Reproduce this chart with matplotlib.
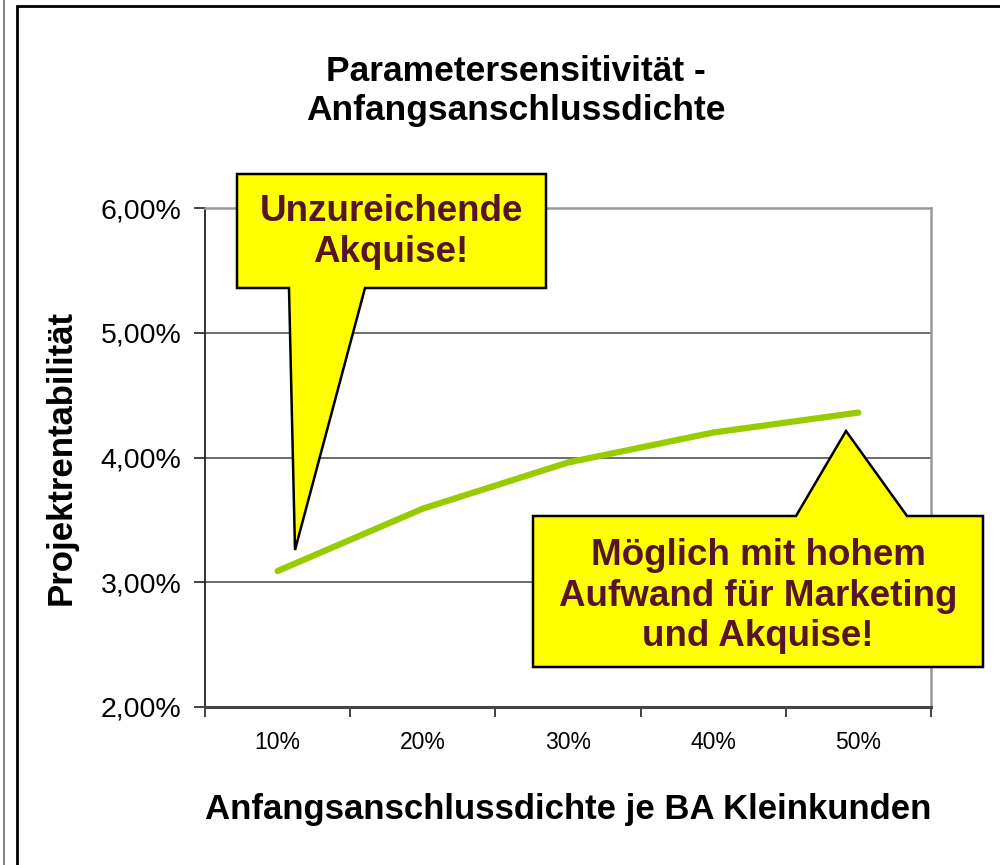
import numpy as np
import matplotlib
matplotlib.use("Agg")
import matplotlib.pyplot as plt
from matplotlib.patches import Polygon, Rectangle
from matplotlib.lines import Line2D

plt.rcParams['font.family'] = ['Liberation Sans', 'DejaVu Sans']

# data
categories = ['10%', '20%', '30%', '40%', '50%']
rentabilitaet = [3.09, 3.59, 3.96, 4.20, 4.36]   # in %
y_ticks = [2, 3, 4, 5, 6]
y_tick_labels = ['2,00%', '3,00%', '4,00%', '5,00%', '6,00%']

title = 'Parametersensitivität -\nAnfangsanschlussdichte'
x_label = 'Anfangsanschlussdichte je BA Kleinkunden'
y_label = 'Projektrentabilität'
note_low = 'Unzureichende\nAkquise!'
note_high = 'Möglich mit hohem\nAufwand für Marketing\nund Akquise!'

W, H = 1000, 865
fig = plt.figure(figsize=(W / 100, H / 100), dpi=100)

# pixel (from top-left) -> figure fraction
def px(x, y):
	return (x / W, 1 - y / H)

left, top = px(205, 208)
right, bottom = px(931, 707)
ax = fig.add_axes([left, bottom, right - left, top - bottom])

x = np.arange(1, len(categories) + 1)
ax.plot(x, rentabilitaet, color='#99cc00', lw=4.5, solid_capstyle='round',
	solid_joinstyle='round', zorder=3)

ax.set_xlim(0.5, len(categories) + 0.5)
ax.set_ylim(2, 6)
ax.set_yticks(y_ticks)
ax.set_yticklabels(y_tick_labels, fontsize=20.5)
ax.set_xticks(x)
ax.set_xticklabels(categories, fontsize=16.5)
ax.set_xticks(np.arange(0.5, len(categories) + 1), minor=True)
ax.tick_params(axis='x', which='major', length=0, pad=17)
ax.tick_params(axis='x', which='minor', length=7, width=1.2, direction='out', color='#222222')
ax.tick_params(axis='y', length=8, width=1.2, direction='out', pad=9, color='#222222')
ax.grid(axis='y', color='#444444', lw=1.1)
ax.set_axisbelow(True)

ax.spines['left'].set_color('#222222')
ax.spines['left'].set_linewidth(1.3)
ax.spines['bottom'].set_color('#444444')
ax.spines['bottom'].set_linewidth(2.2)
ax.spines['right'].set_color('#999999')
ax.spines['right'].set_linewidth(1.8)
ax.spines['top'].set_color('#999999')
ax.spines['top'].set_linewidth(1.8)

ax.set_ylabel(y_label, fontsize=25, fontweight='bold')
ax.yaxis.set_label_coords(-0.176, 0.5)
ax.set_xlabel(x_label, fontsize=25, fontweight='bold')
ax.xaxis.set_label_coords(0.5, -0.172)

tx, ty = px(516, 91)
fig.text(tx, ty, title, ha='center', va='center', fontsize=25.5,
	fontweight='bold', linespacing=1.2)

# outer frame
fig.add_artist(Line2D([px(4, 0)[0]] * 2, [0, 1], color='#888888', lw=1.5))
fx, fy = px(17, 6)
fig.add_artist(Rectangle((fx, -0.1), 1.2, fy + 0.1, fill=False, ec='black', lw=2))

# callouts
text_color = '#561426'
low_shape = [(237, 174), (546, 174), (546, 288), (365, 288), (295, 550),
	(289, 288), (237, 288)]
high_shape = [(533, 516), (796, 516), (846, 431), (907, 516), (983, 516),
	(983, 667), (533, 667)]
for shape in (low_shape, high_shape):
	fig.add_artist(Polygon([px(a, b) for a, b in shape], closed=True,
		fc='#ffff00', ec='black', lw=1.8, zorder=5))

lx, ly = px(391, 232)
fig.text(lx, ly, note_low, ha='center', va='center', fontsize=26.5,
	fontweight='bold', color=text_color, linespacing=1.2, zorder=6)
hx, hy = px(758, 596)
fig.text(hx, hy, note_high, ha='center', va='center', fontsize=26.5,
	fontweight='bold', color=text_color, linespacing=1.2, zorder=6)

fig.savefig('out.png', dpi=100)
